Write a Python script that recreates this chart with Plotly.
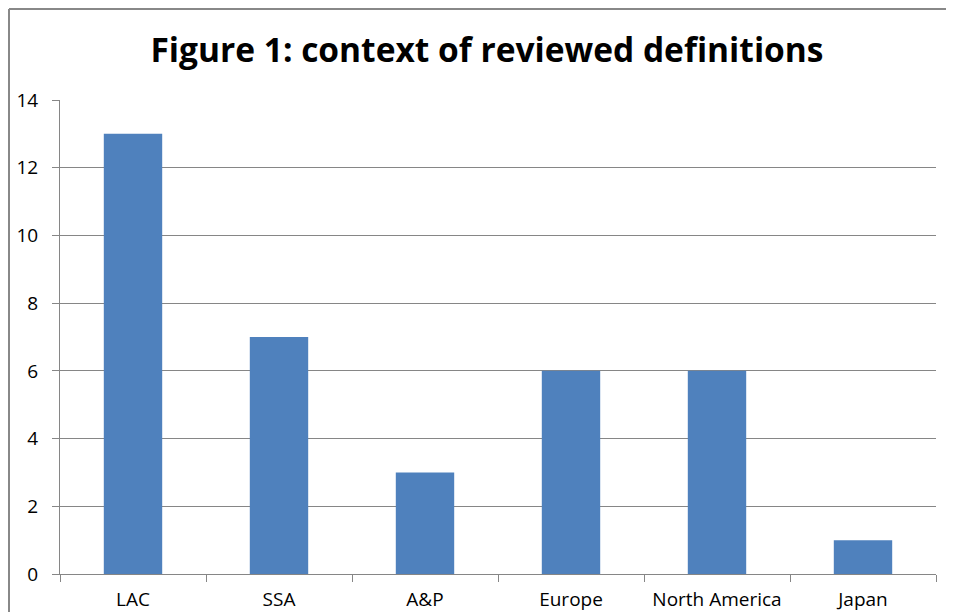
import plotly.graph_objects as go

categories = ["LAC", "SSA", "A&P", "Europe", "North America", "Japan"]
values = [13, 7, 3, 6, 6, 1]
y_ticks = [0, 2, 4, 6, 8, 10, 12, 14]

# page has an 8px body margin; figure coordinates are page coordinates minus 8
W, H = 946, 612
L, T = 52, 92
R = W - 928
B = H - 566
pw, ph = W - L - R, H - T - B

FONT = "Open Sans, Lato, sans-serif"

fig = go.Figure(go.Bar(x=categories, y=values, marker=dict(color="#4F81BD", line=dict(width=0)),
                       width=0.4))

fig.update_layout(
    width=W, height=H,
    margin=dict(l=L, r=R, t=T, b=B, autoexpand=False),
    paper_bgcolor="white", plot_bgcolor="white",
    showlegend=False,
    font=dict(family=FONT, color="#000000"),
    title=dict(text="<b>Figure 1: context of reviewed definitions</b>", x=(487 - 8) / W, xanchor="center",
               xref="container", y=1 - 42 / H, yanchor="middle", yref="container",
               font=dict(size=33.5, family=FONT, color="#000000")),
    bargap=0.6,
)
fig.update_xaxes(
    showgrid=False, showline=True, linecolor="#868686", linewidth=1,
    ticks="outside", tickson="boundaries", ticklen=7, tickcolor="#868686",
    tickfont=dict(size=19), ticklabelstandoff=8, fixedrange=True, automargin=False,
)
fig.update_yaxes(
    range=[0, 14], tickvals=y_ticks, showgrid=True, gridcolor="#868686", gridwidth=1,
    showline=True, linecolor="#868686", linewidth=1, zeroline=False,
    ticks="outside", ticklen=7, tickcolor="#868686", tickfont=dict(size=19),
    ticklabelstandoff=10, automargin=False,
)
# outer chart border (left and top visible)
bx = (1 - L) / pw
by = 1 + (T - 1) / ph
fig.add_shape(type="line", xref="paper", yref="paper", x0=bx, x1=bx, y0=by, y1=-0.2,
              line=dict(color="#888888", width=2))
fig.add_shape(type="line", xref="paper", yref="paper", x0=bx, x1=1.2, y0=by, y1=by,
              line=dict(color="#888888", width=2))

fig.write_html("out.html", config={"displayModeBar": False})
